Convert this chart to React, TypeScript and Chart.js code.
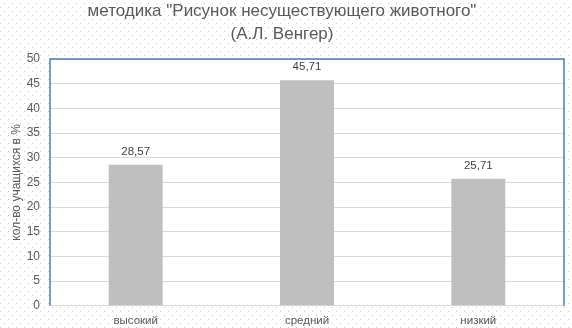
import React, { useEffect, useRef } from "react";
import { Chart, registerables } from "chart.js";

Chart.register(...registerables);

const titleLines = ['методика "Рисунок несуществующего животного"', "(А.Л. Венгер)"];
const categories = ["высокий", "средний", "низкий"];
const values = [28.57, 45.71, 25.71];
const valueLabels = ["28,57", "45,71", "25,71"];
const yAxisTitle = "кол-во учащихся в %";
const yMin = 0;
const yMax = 50;
const yStep = 5;

const FONT = "'Liberation Sans', Arial, sans-serif";
const TEXT = "#595959";

const bgPlugin = {
  id: "bgPlugin",
  beforeDraw(chart: any) {
    const { ctx, width, height, chartArea } = chart;
    ctx.save();
    ctx.fillStyle = "#ffffff";
    ctx.fillRect(0, 0, width, height);
    ctx.fillStyle = "#c4c4c4";
    for (let y = 3; y < height; y += 8) {
      for (let x = 4; x < width; x += 8) ctx.fillRect(x, y, 1, 1);
    }
    for (let y = 7; y < height; y += 8) {
      for (let x = 0; x < width; x += 8) ctx.fillRect(x, y, 1, 1);
    }
    ctx.fillStyle = "#ffffff";
    ctx.fillRect(chartArea.left, chartArea.top, chartArea.right - chartArea.left, chartArea.bottom - chartArea.top);
    ctx.restore();
  },
  afterDraw(chart: any) {
    const { ctx, chartArea } = chart;
    ctx.save();
    ctx.strokeStyle = "#4a7ebb";
    ctx.lineWidth = 1.5;
    ctx.beginPath();
    ctx.moveTo(chartArea.left, chartArea.bottom);
    ctx.lineTo(chartArea.left, chartArea.top);
    ctx.lineTo(chartArea.right, chartArea.top);
    ctx.lineTo(chartArea.right, chartArea.bottom);
    ctx.stroke();
    // value labels
    const meta = chart.getDatasetMeta(0);
    ctx.fillStyle = "#404040";
    ctx.font = `11.5px ${FONT}`;
    ctx.textAlign = "center";
    ctx.textBaseline = "middle";
    meta.data.forEach((el: any, i: number) => {
      ctx.fillText(valueLabels[i], el.x, el.y - 13);
    });
    ctx.restore();
  },
};

export default function App() {
  const ref = useRef<HTMLCanvasElement | null>(null);
  useEffect(() => {
    document.body.style.margin = "0";
    const chart = new Chart(ref.current as HTMLCanvasElement, {
      type: "bar",
      data: {
        labels: categories,
        datasets: [
          {
            data: values,
            backgroundColor: "#bfbfbf",
            categoryPercentage: 1,
            barPercentage: 0.315,
          },
        ],
      },
      plugins: [bgPlugin],
      options: {
        responsive: false,
        animation: false,
        layout: { padding: { left: 0, right: 8, top: 0, bottom: 0 } },
        plugins: {
          legend: { display: false },
          tooltip: { enabled: false },
          title: {
            display: true,
            text: titleLines,
            color: TEXT,
            font: { family: FONT, size: 17, weight: "normal", lineHeight: 1.35 },
            padding: { top: 0, bottom: 13.1 },
          },
        },
        scales: {
          x: {
            grid: { display: false, drawTicks: false },
            border: { display: false },
            ticks: { color: TEXT, font: { family: FONT, size: 11.5 }, padding: 8 },
            afterFit(scale: any) {
              scale.height = 22.3;
            },
          },
          y: {
            min: yMin,
            max: yMax,
            ticks: { stepSize: yStep, color: TEXT, font: { family: FONT, size: 12 }, padding: 10 },
            grid: { color: "#d9d9d9", drawTicks: false, lineWidth: 1 },
            border: { display: false },
            title: {
              display: true,
              text: yAxisTitle,
              color: TEXT,
              font: { family: FONT, size: 12 },
              padding: { top: 9, bottom: 0 },
            },
            afterFit(scale: any) {
              scale.width = 50;
            },
          },
        },
      },
    });
    return () => chart.destroy();
  }, []);
  return (
    <div style={{ position: "absolute", left: 0, top: 0, width: 572, height: 328 }}>
      <canvas ref={ref} width={572} height={328} />
    </div>
  );
}
